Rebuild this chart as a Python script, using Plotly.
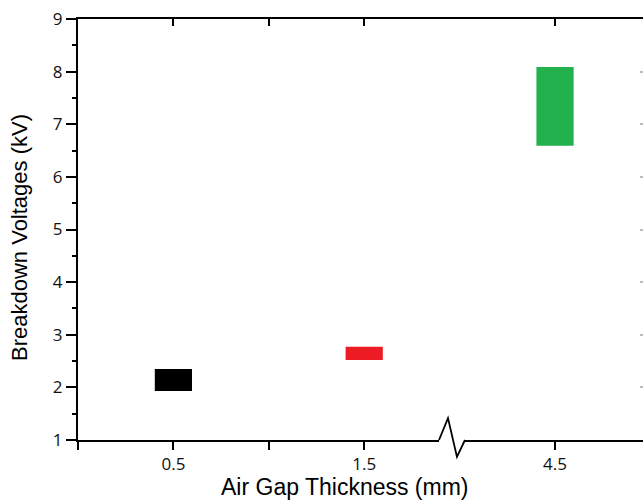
import plotly.graph_objects as go

# Data
categories = ["0.5", "1.5", "4.5"]          # air gap thickness (mm)
x_pos = [0.5, 1.5, 2.5]                      # positions on the broken axis
v_low = [1.93, 2.52, 6.59]                   # breakdown voltage min (kV)
v_high = [2.35, 2.77, 8.09]                  # breakdown voltage max (kV)
colors = ["#000000", "#ED1C24", "#22B14C"]

tick_pos = [0, 0.5, 1.0, 1.5, 2.5]
tick_text = ["", "0.5", "", "1.5", "4.5"]

fig = go.Figure()
fig.add_trace(go.Bar(
    x=x_pos,
    y=[h - l for h, l in zip(v_high, v_low)],
    base=v_low,
    width=0.195,
    marker=dict(color=colors, line=dict(width=0)),
    showlegend=False,
    hoverinfo="skip",
))
fig.add_trace(go.Scatter(x=[None], y=[None], xaxis="x2", yaxis="y2", showlegend=False))

X_RANGE = [0, 2.961]
tickfont = dict(family="Open Sans", size=17, color="#111111")

fig.update_layout(
    width=643, height=504,
    margin=dict(l=78, r=0, t=19, b=64),
    paper_bgcolor="white", plot_bgcolor="white",
    xaxis=dict(
        range=X_RANGE, tickmode="array", tickvals=tick_pos, ticktext=tick_text,
        showline=True, linewidth=2, linecolor="black",
        ticks="outside", ticklen=8, tickwidth=1.5, tickcolor="black",
        showgrid=False, zeroline=False, tickfont=tickfont, automargin=False,
    ),
    xaxis2=dict(
        range=X_RANGE, overlaying="x", side="top", tickmode="array", tickvals=tick_pos,
        showticklabels=False, showline=True, linewidth=2, linecolor="black",
        ticks="inside", ticklen=7, tickwidth=1.5, tickcolor="black",
        showgrid=False, zeroline=False, automargin=False,
    ),
    yaxis=dict(
        range=[1, 9], dtick=1, tick0=1,
        showline=True, linewidth=2, linecolor="black",
        ticks="outside", ticklen=10, tickwidth=1.5, tickcolor="black",
        minor=dict(dtick=0.5, ticks="outside", ticklen=4, tickcolor="black", tickwidth=1.5),
        showgrid=False, zeroline=False, tickfont=tickfont, automargin=False,
    ),
    yaxis2=dict(
        range=[1, 9], dtick=1, overlaying="y", side="right",
        showticklabels=False, showline=False,
        ticks="inside", ticklen=3, tickwidth=1.5, tickcolor="#bbbbbb",
        showgrid=False, zeroline=False, automargin=False,
    ),
)

fig.add_annotation(text="Air Gap Thickness (mm)", xref="paper", yref="paper",
                   x=(345 - 78) / 565, y=-(487 - 440) / 421, xanchor="center", yanchor="middle",
                   showarrow=False, font=dict(family="Liberation Sans", size=23, color="black"))
fig.add_annotation(text="Breakdown Voltages (kV)", xref="paper", yref="paper",
                   x=(20 - 78) / 565, y=(440 - 238) / 421, xanchor="center", yanchor="middle",
                   textangle=-90, showarrow=False,
                   font=dict(family="Liberation Sans", size=22, color="black"))

# axis-break symbol on the x axis
fig.add_shape(type="line", xref="x", yref="paper", x0=1.892, x1=2.028, y0=0, y1=0,
              line=dict(color="white", width=4), layer="above")
fig.add_shape(type="path", xref="x", yref="paper",
              path="M 1.892,0 L 1.939,0.052 L 1.986,-0.040 L 2.028,0",
              line=dict(color="black", width=1.8), layer="above")

fig.write_html("out.html", config={"displayModeBar": False},
               post_script="document.body.style.margin='0';document.body.style.overflow='hidden';")
